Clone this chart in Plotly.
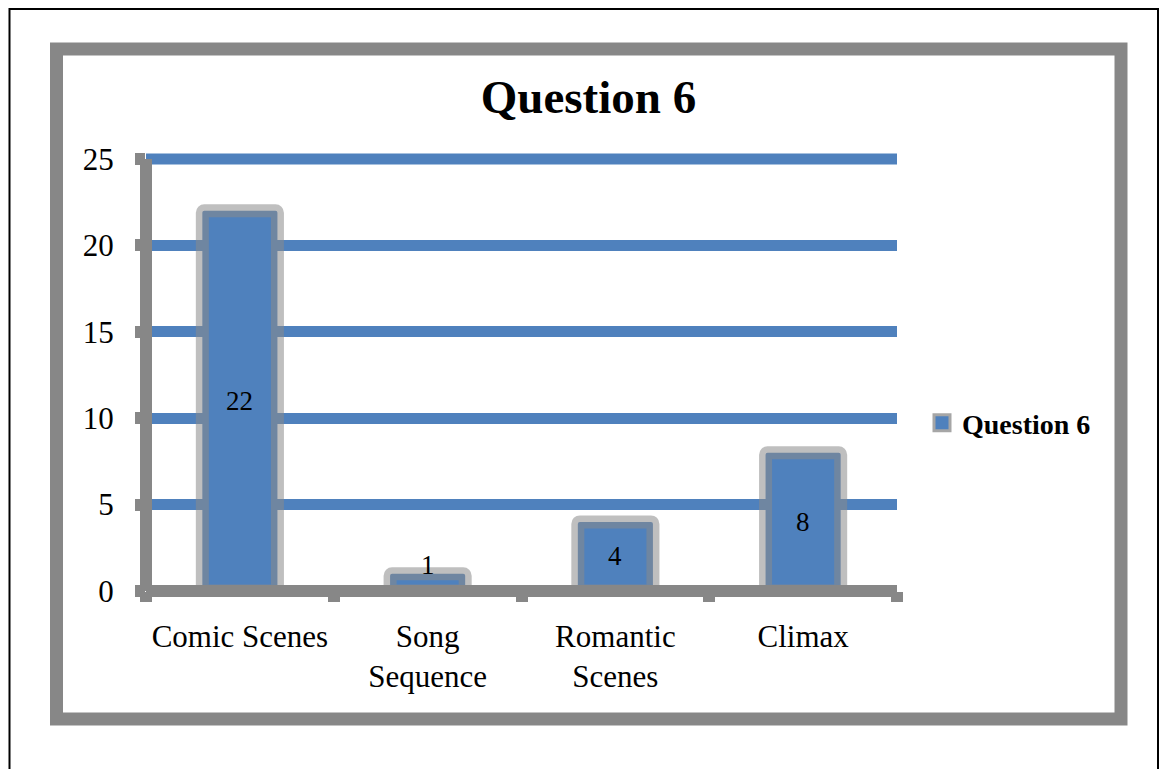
import plotly.graph_objects as go

# Survey responses for Question 6
categories = ["Comic Scenes", "Song<br>Sequence", "Romantic<br>Scenes", "Climax"]
responses = [22, 1, 4, 8]
series_name = "Question 6"
y_ticks = [0, 5, 10, 15, 20, 25]

W, H = 1163, 769
ML, MR, MT, MB = 146, 266, 159, 178
PW, PH = W - ML - MR, H - MT - MB

BLUE = "#4F81BD"
GRAY = "#878787"
BAR_EDGE = "rgba(138,138,138,0.55)"
SERIF = "Liberation Serif"
LABEL_SIZE = 27


def px_x(p):
    return (p - ML) / PW


def px_y(p):
    return (H - MB - p) / PH


units_per_px = (y_ticks[-1] - y_ticks[0]) / PH

fig = go.Figure()
fig.add_trace(go.Bar(
    x=categories,
    y=responses,
    name=series_name,
    width=0.4,
    marker=dict(color=BLUE, line=dict(color=BAR_EDGE, width=13), cornerradius=2),
    cliponaxis=False,
    showlegend=False,
))

# legend entry drawn as a larger square swatch
fig.add_trace(go.Scatter(
    x=[categories[0]], y=[None],
    mode="markers",
    name=series_name,
    marker=dict(symbol="square", size=16, color=BLUE, line=dict(color="#A6A6A6", width=3)),
    showlegend=True,
    hoverinfo="skip",
))

# value labels: centred in the bar, or sitting on top when the bar is too short
annotations = []
for cat, v in zip(categories, responses):
    bar_px = v / units_per_px
    if bar_px >= LABEL_SIZE * 1.2:
        annotations.append(dict(x=cat, y=v / 2, xref="x", yref="y", text=str(v),
                                showarrow=False, yanchor="middle",
                                font=dict(family=SERIF, size=LABEL_SIZE, color="black")))
    else:
        annotations.append(dict(x=cat, y=v, xref="x", yref="y", text=str(v),
                                showarrow=False, yanchor="middle", yshift=9,
                                font=dict(family=SERIF, size=LABEL_SIZE, color="black")))

shapes = [
    # outer page border
    dict(type="rect", xref="paper", yref="paper",
         x0=px_x(9.5), x1=px_x(1158), y0=px_y(820), y1=px_y(9),
         line=dict(color="black", width=2), layer="below"),
    # chart frame
    dict(type="rect", xref="paper", yref="paper",
         x0=px_x(56.5), x1=px_x(1121), y0=px_y(719), y1=px_y(49),
         line=dict(color=GRAY, width=13), layer="below"),
    # top gridline along the upper edge of the plot area
    dict(type="line", xref="paper", yref="paper", x0=0, x1=1, y0=1, y1=1,
         line=dict(color=BLUE, width=11), layer="below"),
    # value axis line
    dict(type="line", xref="paper", yref="paper", x0=0, x1=0, y0=0, y1=1,
         line=dict(color=GRAY, width=12), layer="above"),
    # category axis line
    dict(type="line", xref="paper", yref="paper", x0=0, x1=1, y0=0, y1=0,
         line=dict(color=GRAY, width=12), layer="above"),
]

fig.update_layout(
    width=W, height=H,
    margin=dict(l=ML, r=MR, t=MT, b=MB, pad=0),
    paper_bgcolor="white",
    plot_bgcolor="white",
    title=dict(text="<b>Question 6</b>", x=588.5 / W, y=1 - 97 / H,
               xref="container", yref="container", xanchor="center", yanchor="middle",
               font=dict(family=SERIF, size=47, color="black")),
    xaxis=dict(
        type="category",
        showgrid=False, zeroline=False, showline=False,
        ticks="outside", tickson="boundaries", ticklen=10, tickwidth=12, tickcolor=GRAY,
        tickangle=0,
        tickfont=dict(family=SERIF, size=31, color="black"),
        ticklabelstandoff=24,
    ),
    yaxis=dict(
        range=[y_ticks[0], y_ticks[-1]],
        tickvals=y_ticks,
        showgrid=True, gridcolor=BLUE, gridwidth=11,
        zeroline=False, showline=False,
        ticks="outside", ticklen=10, tickwidth=12, tickcolor=GRAY,
        tickfont=dict(family=SERIF, size=31, color="black"),
        ticklabelstandoff=15,
    ),
    legend=dict(x=px_x(922), y=px_y(423), xanchor="left", yanchor="middle",
                bgcolor="rgba(0,0,0,0)",
                font=dict(family=SERIF, size=28, color="black", weight="bold")),
    annotations=annotations,
    shapes=shapes,
)

fig.write_html("out.html")
